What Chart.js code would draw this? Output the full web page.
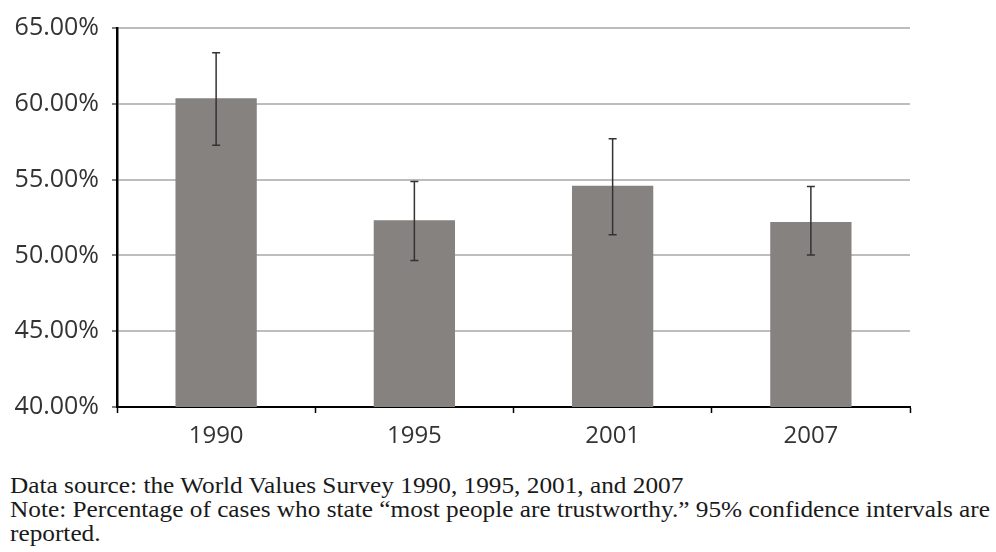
<!DOCTYPE html>
<html>
<head>
<meta charset="utf-8">
<script src="https://cdn.jsdelivr.net/npm/chart.js@4"></script>
<style>
  html, body { margin: 0; padding: 0; background: #fff; }
  #wrap { position: relative; width: 996px; height: 552px; overflow: hidden; }
  #chartBox { position: absolute; left: 0; top: 0; width: 996px; height: 460px; }
  #notes { position: absolute; left: 10px; top: 473px; font-family: "Liberation Serif", "Times New Roman", Times, serif; font-size: 24px; line-height: 24px; color: #1a1a1a; white-space: nowrap; transform-origin: 0 0; }
</style>
</head>
<body>
<div id="wrap">
  <div id="chartBox"><canvas id="c"></canvas></div>
  <div id="notes">
    <div>Data source: the World Values Survey 1990, 1995, 2001, and 2007</div>
    <div id="line2">Note: Percentage of cases who state “most people are trustworthy.” 95% confidence intervals are</div>
    <div>reported.</div>
  </div>
</div>
<script>
const years = ['1990', '1995', '2001', '2007'];
const trustShare = [60.36, 52.32, 54.60, 52.21];
const ciUpper = [63.37, 54.87, 57.70, 54.54];
const ciLower = [57.27, 49.67, 51.36, 50.02];
const yTicks = [40, 45, 50, 55, 60, 65];

const errorBars = {
  id: 'errorBars',
  afterDatasetsDraw(chart) {
    const meta = chart.getDatasetMeta(0);
    const y = chart.scales.y;
    const ctx = chart.ctx;
    ctx.save();
    ctx.strokeStyle = '#333333';
    ctx.lineWidth = 1.5;
    meta.data.forEach((bar, i) => {
      const yt = y.getPixelForValue(ciUpper[i]);
      const yb = y.getPixelForValue(ciLower[i]);
      ctx.beginPath();
      ctx.moveTo(bar.x, yt); ctx.lineTo(bar.x, yb);
      ctx.moveTo(bar.x - 4, yt); ctx.lineTo(bar.x + 4, yt);
      ctx.moveTo(bar.x - 4, yb); ctx.lineTo(bar.x + 4, yb);
      ctx.stroke();
    });
    ctx.restore();
  }
};

new Chart(document.getElementById('c'), {
  type: 'bar',
  data: {
    labels: years,
    datasets: [{
      data: trustShare,
      backgroundColor: '#858280',
      borderWidth: 0,
      barPercentage: 1,
      categoryPercentage: 0.41
    }]
  },
  options: {
    responsive: true,
    maintainAspectRatio: false,
    animation: false,
    layout: { padding: { left: 0, right: 86, top: 27, bottom: 0 } },
    plugins: { legend: { display: false }, tooltip: { enabled: false } },
    scales: {
      x: {
        afterFit(s) { s.height = 53; },
        border: { display: true, color: '#000', width: 2 },
        grid: { display: true, drawOnChartArea: false, drawTicks: true, tickLength: 6, offset: true, tickColor: '#000', tickWidth: 1.5 },
        ticks: { color: '#333', font: { family: 'Open Sans', size: 24 }, padding: 9 }
      },
      y: {
        min: 40, max: 65,
        afterFit(s) { s.width = 117; },
        afterBuildTicks(s) { s.ticks = yTicks.map(v => ({ value: v })); },
        border: { display: true, color: '#000', width: 2.5 },
        grid: { color: '#bdbdbd', lineWidth: 2, tickLength: 5, tickColor: '#555', tickWidth: 1.5 },
        ticks: {
          color: '#333', font: { family: 'Open Sans', size: 25 }, padding: 13,
          callback: v => v.toFixed(2) + '%'
        }
      }
    }
  },
  plugins: [errorBars]
});

(function fitNotes() {
  const notes = document.getElementById('notes');
  const l2 = document.getElementById('line2');
  const w = l2.getBoundingClientRect().width;
  const sx = 980 / w;
  notes.style.transform = 'scaleX(' + sx + ')';
})();
</script>
</body>
</html>
